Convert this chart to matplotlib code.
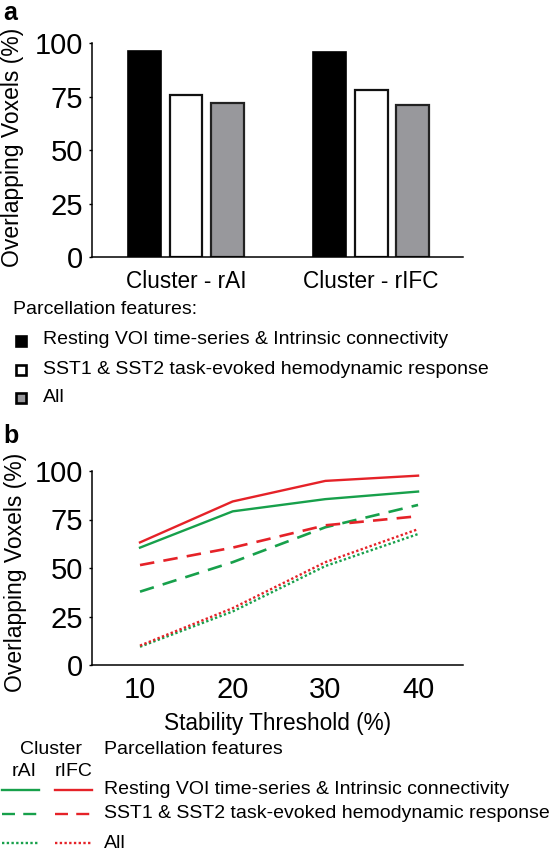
import matplotlib
matplotlib.use("Agg")
import matplotlib.pyplot as plt
from matplotlib.lines import Line2D
from matplotlib.transforms import ScaledTranslation

plt.rcParams['font.family'] = ['Liberation Sans', 'DejaVu Sans']

# ---------------- data ----------------
clusters = ["Cluster - rAI", "Cluster - rIFC"]
features = ["Resting VOI time-series & Intrinsic connectivity",
            "SST1 & SST2 task-evoked hemodynamic response",
            "All"]
bar_resting = [96.3, 95.8]
bar_task = [75.8, 77.9]
bar_all = [72.0, 71.0]

thresholds = [10, 20, 30, 40]
rAI_resting = [60.5, 79.2, 85.5, 89.4]
rIFC_resting = [63.2, 84.3, 94.9, 97.6]
rAI_task = [37.8, 53.0, 71.0, 82.5]
rIFC_task = [51.5, 60.5, 72.0, 76.7]
rAI_all = [9.4, 27.6, 51.0, 67.5]
rIFC_all = [10.0, 29.3, 53.0, 70.0]
yticks = [0, 25, 50, 75, 100]

RED = '#e52228'
GREEN = '#17a04b'
GRAY = '#98989c'

W, H = 554, 852
fig = plt.figure(figsize=(W / 100, H / 100), dpi=100)

def fx(x):
    return x / W

def fy(y):
    return 1 - y / H

# ---------------- panel a ----------------
axa = fig.add_axes([fx(92), fy(257), (463 - 92) / W, (257 - 43) / H])
xs = list(range(len(clusters)))
bw = 0.178
off = 0.222
axa.bar([x - off for x in xs], bar_resting, bw, color='black', edgecolor='black', linewidth=1.2)
axa.bar(xs, bar_task, bw, color='white', edgecolor='#111111', linewidth=1.6)
axa.bar([x + off for x in xs], bar_all, bw, color=GRAY, edgecolor='#222222', linewidth=1.6)
axa.set_xlim(-0.508, 1.497)
axa.set_ylim(0, 100)
axa.set_yticks(yticks)
axa.set_xticks(xs)
axa.set_xticklabels(clusters, fontsize=16.3)
for lab in axa.get_xticklabels():
    lab.set_transform(lab.get_transform() + ScaledTranslation(-12 / 100, 0, fig.dpi_scale_trans))
axa.tick_params(axis='y', labelsize=21, length=2.5, width=1.0, pad=4)
axa.tick_params(axis='x', length=0, pad=9.5)
for s in ['top', 'right']:
    axa.spines[s].set_visible(False)
for s in ['left', 'bottom']:
    axa.spines[s].set_linewidth(1.1)
axa.set_ylabel("Overlapping Voxels (%)", fontsize=16.5, va='center')
axa.yaxis.set_label_coords(-0.213, 0.51)

fig.text(fx(3), fy(20), "a", fontsize=18, fontweight='bold', va='baseline', ha='left')

# legend a
fig.text(fx(13), fy(310), "Parcellation features:", fontsize=14, va='center', ha='left')
sq_styles = [('black', 'black'), ('white', 'black'), (GRAY, 'black')]
sq_y = [340.5, 370, 398]
for (fc, ec), yy, lab in zip(sq_styles, sq_y, features):
    fig.add_artist(Line2D([fx(20.5)], [fy(yy)], marker='s', markersize=7.6,
                          markerfacecolor=fc, markeredgecolor=ec, markeredgewidth=1.9,
                          linestyle='none', transform=fig.transFigure))
    fig.text(fx(43), fy(yy - 1), lab, fontsize=14, va='center', ha='left')

# ---------------- panel b ----------------
axb = fig.add_axes([fx(92), fy(665), (463 - 92) / W, (665 - 471) / H])
lw = 1.7
dash = (0, (5.5, 3.5))
dot = (0, (1, 1.0))
axb.plot(thresholds, rAI_resting, color=GREEN, lw=lw)
axb.plot(thresholds, rIFC_resting, color=RED, lw=lw)
axb.plot(thresholds, rAI_task, color=GREEN, lw=lw + 0.2, linestyle=dash)
axb.plot(thresholds, rIFC_task, color=RED, lw=lw + 0.2, linestyle=dash)
axb.plot(thresholds, rAI_all, color=GREEN, lw=lw, linestyle=dot)
axb.plot(thresholds, rIFC_all, color=RED, lw=lw, linestyle=dot)
axb.set_xlim(4.82, 44.85)
axb.set_ylim(0, 100)
axb.set_yticks(yticks)
axb.set_xticks(thresholds)
axb.tick_params(axis='y', labelsize=21, length=2.5, width=1.0, pad=4)
axb.tick_params(axis='x', labelsize=21, length=0, pad=8)
for s in ['top', 'right']:
    axb.spines[s].set_visible(False)
for s in ['left', 'bottom']:
    axb.spines[s].set_linewidth(1.1)
axb.set_ylabel("Overlapping Voxels (%)", fontsize=16.5, va='center')
axb.yaxis.set_label_coords(-0.2075, 0.48)
axb.set_xlabel("Stability Threshold (%)", fontsize=16.3, va='center')
axb.xaxis.set_label_coords(0.5, -0.299)

fig.text(fx(3), fy(443), "b", fontsize=18, fontweight='bold', va='baseline', ha='left')

# legend b
fig.text(fx(51), fy(750), "Cluster", fontsize=14, va='center', ha='center')
fig.text(fx(104), fy(750), "Parcellation features", fontsize=14, va='center', ha='left')
fig.text(fx(24), fy(771), "rAI", fontsize=14, va='center', ha='center')
fig.text(fx(74), fy(771), "rIFC", fontsize=14, va='center', ha='center')
row_y = [790, 814, 843]
styles = ['-', dash, dot]
for yy, ls, lab in zip(row_y, styles, features):
    fig.add_artist(Line2D([fx(2), fx(39)], [fy(yy), fy(yy)], color=GREEN, lw=lw,
                          linestyle=ls, transform=fig.transFigure))
    fig.add_artist(Line2D([fx(55), fx(92)], [fy(yy), fy(yy)], color=RED, lw=lw,
                          linestyle=ls, transform=fig.transFigure))
    fig.text(fx(104), fy(yy), lab, fontsize=14, va='center', ha='left')

fig.savefig("out.png", dpi=100)
